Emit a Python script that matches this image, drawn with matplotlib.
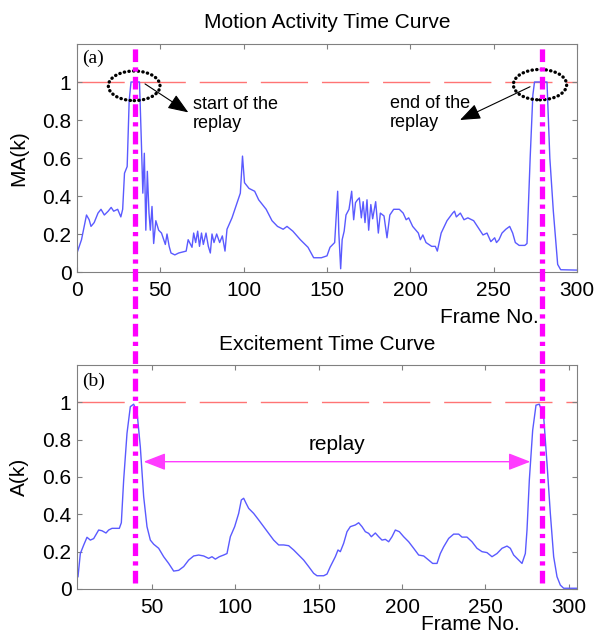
import matplotlib
matplotlib.use("Agg")
import matplotlib.pyplot as plt
from matplotlib.patches import Ellipse
from matplotlib.lines import Line2D
from matplotlib.transforms import blended_transform_factory

plt.rcParams['font.family'] = ['Liberation Sans', 'DejaVu Sans']

# motion activity curve (top)
ma_frame = [0, 2.7, 5.7, 7.3, 8.4, 10.3, 12.6, 14.4, 16.4, 18.7, 20.5, 22, 24.4, 26.3, 27.4,
            28.5, 30.1, 31.3, 32.4, 37.5, 38.6, 39.5, 40.4, 41.3, 42.2, 43.2, 44, 45, 46,
            47.3, 49, 50.7, 53, 54, 55.3, 56.4, 58.7, 61, 65.5, 66.7, 69, 70, 71.2, 72.4,
            73.5, 74.7, 75.8, 77.4, 78.8, 80, 81, 82.2, 83.8, 85.6, 87.2, 88.8, 90, 93,
            96.3, 98, 99.3, 100.5, 103.2, 106.6, 109, 113.5, 117, 120.3, 123.7, 126, 129.5,
            134, 138.6, 142, 146.6, 150, 151.8, 154.6, 156.4, 157.1, 158.2, 159.1, 160.3,
            161.4, 163.2, 164.8, 166, 167.1, 168.3, 169.4, 170.6, 171.7, 172.8, 174, 175,
            176.3, 177.4, 179.2, 180.8, 182, 184.2, 186, 187.7, 190, 193.4, 195.7, 197.5,
            199, 201.4, 204.8, 206, 207.5, 209.4, 212.8, 215, 216.2, 218.5, 222, 225.4,
            226.5, 227.6, 230, 232.2, 234.5, 238, 241.4, 243.6, 246, 248.3, 250.6, 251.7,
            253.2, 255, 257.3, 259.6, 261.4, 263, 265.3, 268.7, 270, 271.9, 273.5, 274.5,
            282, 283.7, 285.8, 288.4, 290.2, 300]
ma_value = [0.10, 0.17, 0.30, 0.275, 0.24, 0.26, 0.31, 0.33, 0.30, 0.32, 0.34, 0.32, 0.33, 0.29, 0.33,
            0.52, 0.555, 0.90, 1.0, 1.0, 0.69, 0.415, 0.625, 0.22, 0.53, 0.31, 0.22, 0.345, 0.15,
            0.27, 0.22, 0.205, 0.145, 0.20, 0.135, 0.10, 0.09, 0.10, 0.11, 0.17, 0.13, 0.205, 0.155, 0.215,
            0.135, 0.205, 0.145, 0.205, 0.135, 0.10, 0.20, 0.155, 0.20, 0.155, 0.19, 0.11, 0.225, 0.285,
            0.37, 0.415, 0.61, 0.47, 0.44, 0.425, 0.38, 0.33, 0.27, 0.24, 0.225, 0.24, 0.215,
            0.17, 0.13, 0.075, 0.075, 0.085, 0.13, 0.155, 0.425, 0.205, 0.017, 0.17, 0.215,
            0.30, 0.33, 0.425, 0.275, 0.365, 0.38, 0.39, 0.285, 0.37, 0.26, 0.38, 0.22,
            0.355, 0.28, 0.37, 0.205, 0.31, 0.295, 0.18, 0.30, 0.33, 0.33, 0.31, 0.275,
            0.285, 0.24, 0.205, 0.17, 0.195, 0.155, 0.135, 0.135, 0.11, 0.205, 0.27, 0.31,
            0.32, 0.29, 0.31, 0.275, 0.285, 0.27, 0.225, 0.195, 0.205, 0.16, 0.18, 0.155,
            0.17, 0.205, 0.225, 0.24, 0.205, 0.155, 0.14, 0.14, 0.15, 0.6, 0.93, 1.0,
            1.0, 0.6, 0.32, 0.04, 0.012, 0.01]

# excitement curve (bottom)
a_frame = [5.6, 7, 9, 11, 13, 15, 18, 20, 22.4, 24, 26, 30.4, 31.6, 33, 35, 37, 39, 41, 43, 45,
           47, 49, 51, 54, 57, 60, 63, 66, 69, 72, 75, 78, 81, 84, 86, 88, 90.4, 93, 95, 97,
           99.6, 102, 103.6, 105, 106.4, 108, 111, 114, 117, 120, 123, 126, 129, 132, 135, 138,
           141, 144, 147, 149, 153, 155, 157, 160, 161.6, 163, 165, 167, 169, 172, 174, 176,
           178, 180, 181.6, 184, 186, 188, 190, 192, 194, 196, 198.4, 201, 204, 207, 210, 213,
           216, 218.4, 221, 223, 225, 228, 231, 234, 236, 239, 242, 245, 248, 251, 254, 257,
           260, 263, 265, 267, 270, 272, 274, 275, 276.4, 278.4, 280.4, 282.4, 285, 287, 289,
           291, 293, 295, 297, 305]
a_value = [0.066, 0.19, 0.235, 0.277, 0.262, 0.27, 0.316, 0.312, 0.30, 0.316, 0.325, 0.325, 0.355,
           0.584, 0.834, 0.977, 0.99, 0.95, 0.76, 0.495, 0.334, 0.262, 0.24, 0.218, 0.173, 0.137,
           0.096, 0.10, 0.12, 0.155, 0.177, 0.182, 0.177, 0.164, 0.173, 0.16, 0.173, 0.182, 0.19,
           0.28, 0.334, 0.405, 0.477, 0.486, 0.46, 0.432, 0.405, 0.37, 0.334, 0.298, 0.262, 0.236,
           0.236, 0.232, 0.209, 0.182, 0.155, 0.12, 0.084, 0.071, 0.071, 0.08, 0.12, 0.173, 0.209,
           0.20, 0.245, 0.307, 0.334, 0.343, 0.355, 0.334, 0.307, 0.298, 0.28, 0.30, 0.28, 0.262,
           0.266, 0.253, 0.28, 0.316, 0.307, 0.28, 0.253, 0.218, 0.182, 0.177, 0.155, 0.137, 0.137,
           0.19, 0.226, 0.271, 0.294, 0.294, 0.278, 0.278, 0.253, 0.218, 0.20, 0.195, 0.173, 0.19,
           0.218, 0.23, 0.218, 0.182, 0.155, 0.137, 0.19, 0.316, 0.584, 0.85, 0.985, 0.99, 0.923,
           0.673, 0.405, 0.173, 0.066, 0.021, 0.004, 0.004]

# replay boundaries, in frames of the bottom chart
replay_marks = [40, 284]
replay_arrow = [45, 277]
replay_level = 0.682

ytick_vals = [0, 0.2, 0.4, 0.6, 0.8, 1]
ytick_labels = ['0', '0.2', '0.4', '0.6', '0.8', '1']
top_xticks = [0, 50, 100, 150, 200, 250, 300]
bottom_xticks = [50, 100, 150, 200, 250, 300]

fig = plt.figure(figsize=(5.96, 6.35), dpi=100)
ax1 = fig.add_axes([77 / 596, 1 - 272 / 635, 500 / 596, 228 / 635])
ax2 = fig.add_axes([77 / 596, 1 - 589 / 635, 500 / 596, 224 / 635])

curve_blue = '#5a5aff'
for ax in (ax1, ax2):
    ax.set_ylim(0, 1.2)
    ax.set_yticks(ytick_vals)
    ax.set_yticklabels(ytick_labels)
    ax.axhline(1, color='#ff7474', lw=1.0, dashes=(34, 10), zorder=1)
    ax.tick_params(direction='in', top=True, right=True, length=3.6, width=0.8,
                   color='#808080', labelsize=15, labelcolor='black')
    ax.tick_params(axis='x', pad=6.5)
    ax.tick_params(axis='y', pad=4)
    for s in ax.spines.values():
        s.set_color('#808080')
        s.set_linewidth(0.8)

# top chart
ax1.plot(ma_frame, ma_value, color=curve_blue, lw=1.0, zorder=2)
ax1.set_xlim(0, 300)
ax1.set_xticks(top_xticks)
ax1.set_title('Motion Activity Time Curve', fontsize=15, pad=11.5)
ax1.set_ylabel('MA(k)', fontsize=15)
ax1.yaxis.set_label_coords(-0.097, 0.5)
ax1.set_xlabel('Frame No.', fontsize=15)
ax1.xaxis.set_label_coords(0.824, -0.158)
ax1.text(0.01, 0.975, '(a)', transform=ax1.transAxes, ha='left', va='top',
         family=['Liberation Serif', 'DejaVu Serif'], fontsize=14)

ell_style = dict(fill=False, edgecolor='black', lw=2.4, linestyle=(0, (0.1, 1.3)),
                 capstyle='round', zorder=4)
ax1.add_patch(Ellipse((34.3, 0.98), 31, 0.156, **ell_style))
ax1.add_patch(Ellipse((277.8, 0.986), 32, 0.16, **ell_style))

arrow_style = dict(arrowstyle='-|>,head_length=0.9,head_width=0.35', color='black',
                   lw=0.8, shrinkA=0, shrinkB=0, mutation_scale=14)
ax1.annotate('', xy=(66.8, 0.84), xytext=(40.8, 0.99), arrowprops=arrow_style)
ax1.annotate('', xy=(229.8, 0.80), xytext=(271.8, 0.975), arrowprops=arrow_style)
ax1.text(69.4, 0.925, 'start of the\nreplay', ha='left', va='top', fontsize=13,
         linespacing=1.15)
ax1.text(187.8, 0.93, 'end of the\nreplay', ha='left', va='top', fontsize=13,
         linespacing=1.15)

# bottom chart
ax2.plot(a_frame, a_value, color=curve_blue, lw=1.0, zorder=2)
ax2.set_xlim(5, 305)
ax2.set_xticks(bottom_xticks)
ax2.set_title('Excitement Time Curve', fontsize=15, pad=11)
ax2.set_ylabel('A(k)', fontsize=15)
ax2.yaxis.set_label_coords(-0.097, 0.5)
ax2.set_xlabel('Frame No.', fontsize=15)
ax2.xaxis.set_label_coords(0.786, -0.118)
ax2.text(0.01, 0.965, '(b)', transform=ax2.transAxes, ha='left', va='top',
         family=['Liberation Serif', 'DejaVu Serif'], fontsize=14)

ax2.annotate('', xy=(replay_arrow[1], replay_level), xytext=(replay_arrow[0], replay_level),
             arrowprops=dict(arrowstyle='<|-|>,head_length=0.9,head_width=0.35',
                             color='#ff3cff', lw=1.0, shrinkA=0, shrinkB=0,
                             mutation_scale=15))
ax2.text(sum(replay_arrow) / 2, replay_level + 0.04, 'replay', ha='center', va='bottom',
         fontsize=15)

# magenta replay boundaries running through both charts
trans = blended_transform_factory(ax2.transData, fig.transFigure)
y_top = ax1.get_position().y1
y_bot = fig.transFigure.inverted().transform(ax2.transData.transform((0, 0.03)))[1]
for xm in replay_marks:
    fig.add_artist(Line2D([xm, xm], [y_bot, y_top], transform=trans, color='#ff00ff',
                          lw=3.8, dashes=(2.4, 1.0, 0.8, 1.0), solid_capstyle='butt',
                          dash_capstyle='butt'))

fig.savefig('out.png', dpi=100)
